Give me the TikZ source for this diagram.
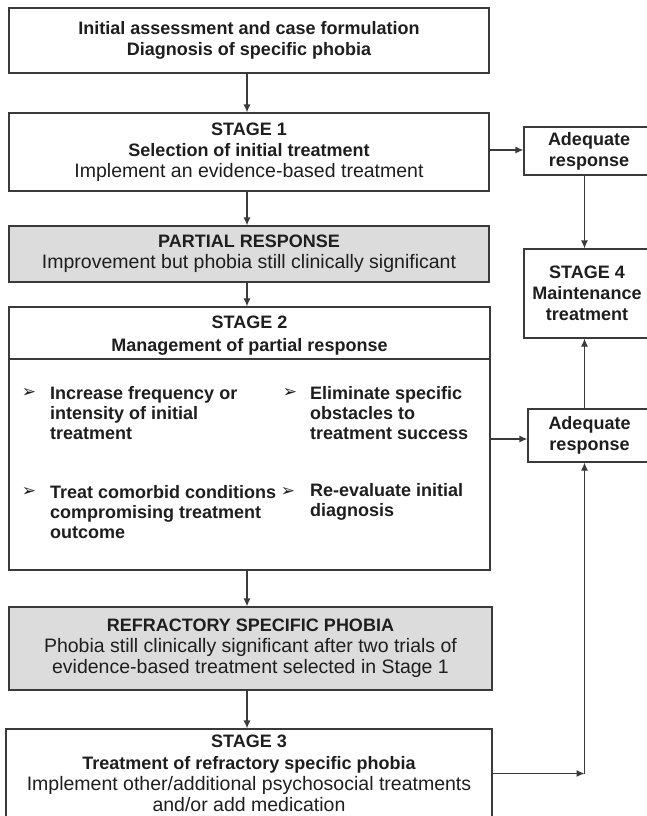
\documentclass[tikz,border=0pt]{standalone}
\usepackage{fontspec}
\setmainfont{Liberation Sans}
\newfontfamily\dvfont{DejaVu Sans}
\usetikzlibrary{arrows.meta}
\definecolor{linec}{HTML}{3A3A3A}
\definecolor{grayf}{HTML}{DCDCDC}
\definecolor{txt}{HTML}{1E1E1E}
\newcommand\bt{\bfseries}
\newcommand\rg{\fontsize{19.5}{21}\selectfont\mdseries}
\tikzset{
  box/.style={draw=linec, line width=1.2pt, fill=white, align=center, inner sep=0pt, text=txt,
    font=\fontsize{18}{21.2}\selectfont},
  gbox/.style={box, fill=grayf},
  plain/.style={inner sep=0pt, text=txt, align=left, font=\fontsize{18}{20.2}\selectfont},
  bul/.style={inner sep=0pt, text=txt, font=\dvfont\fontsize{17}{17}\selectfont},
  arr/.style={draw=linec, line width=1.2pt, -{Latex[length=8pt,width=7pt]}}
}
\begin{document}
\begin{tikzpicture}[x=1pt,y=-1pt]
\useasboundingbox (0,0) rectangle (647,816);
% main column
\node[box, minimum width=480pt, minimum height=65pt] (init) at (249,40.5)
  {\bt Initial assessment and case formulation\\ \bt Diagnosis of specific phobia};
\node[box, minimum width=480pt, minimum height=78pt] (s1) at (249,152)
  {\bt STAGE 1\\ \bt Selection of initial treatment\\ \rg Implement an evidence-based treatment};
\node[gbox, minimum width=480pt, minimum height=56pt] (pr) at (249,254)
  {\bt PARTIAL RESPONSE\\ \rg Improvement but phobia still clinically significant};
\node[box, minimum width=481pt, minimum height=263pt] (s2) at (249.5,438.5) {};
\node[plain, align=center, font=\fontsize{18}{22.5}\selectfont] (s2t) at (249.5,335.5)
  {\bt STAGE 2\\ \bt Management of partial response};
\draw[draw=linec, line width=1.2pt] (s2.west |- 0,359) -- (s2.east |- 0,359);
% bullets
\node[bul] (b1) at (29,393) {➢};
\node[plain, anchor=west] (t1) at (50,413)
  {\bt Increase frequency or\\ \bt intensity of initial\\ \bt treatment};
\node[bul] (b2) at (290,393) {➢};
\node[plain, anchor=west] (t2) at (310,413)
  {\bt Eliminate specific\\ \bt obstacles to\\ \bt treatment success};
\node[bul] (b3) at (29,492) {➢};
\node[plain, anchor=west] (t3) at (50,512)
  {\bt Treat comorbid conditions\\ \bt compromising treatment\\ \bt outcome};
\node[bul] (b4) at (288,492) {➢};
\node[plain, anchor=west] (t4) at (310,502)
  {\bt Re-evaluate initial\\ \bt diagnosis};
\node[gbox, minimum width=483pt, minimum height=83pt] (ref) at (250.5,648.5)
  {\bt REFRACTORY SPECIFIC PHOBIA\\ \rg Phobia still clinically significant after two trials of\\ \rg evidence-based treatment selected in Stage 1};
\node[box, minimum width=486pt, minimum height=89pt] (s3) at (249,773.5)
  {\bt STAGE 3\\ \bt Treatment of refractory specific phobia\\ \rg Implement other/additional psychosocial treatments\\ \rg and/or add medication};
% right column
\node[box, minimum width=130pt, minimum height=48pt] (ad1) at (589,151)
  {\bt Adequate\\ \bt response};
\node[box, minimum width=126pt, minimum height=89pt, font=\fontsize{18}{21}\selectfont] (s4) at (587,293.5)
  {\bt STAGE 4\\ \bt Maintenance\\ \bt treatment};
\node[box, minimum width=123pt, minimum height=53pt] (ad2) at (589.5,435.5)
  {\bt Adequate\\ \bt response};
\coordinate (rc) at (584.5,0);
\coordinate (j) at (584.5,773.5);
% connectors
\draw[arr] (init.south -| 247,0) -- (s1.north -| 247,0);
\draw[arr] (s1.south -| 247,0) -- (pr.north -| 247,0);
\draw[arr] (pr.south -| 247,0) -- (s2.north -| 247,0);
\draw[arr] (s2.south -| 247,0) -- (ref.north -| 247,0);
\draw[arr] (ref.south -| 247,0) -- (s3.north -| 247,0);
\draw[arr] (s1.east |- 0,150) -- (ad1.west |- 0,150);
\draw[arr] (ad1.south -| rc) -- (s4.north -| rc);
\draw[arr] (s2.east |- 0,439) -- (ad2.west |- 0,439);
\draw[arr] (ad2.north -| rc) -- (s4.south -| rc);
\draw[arr] (s3.east |- j) -- (j);
\draw[arr] (j) -- (ad2.south -| rc);
\end{tikzpicture}
\end{document}
